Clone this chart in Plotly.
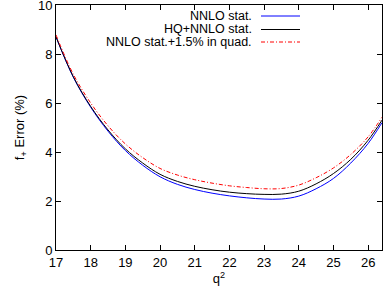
import plotly.graph_objects as go

q2 = [17.0, 17.5, 18.0, 18.5, 19.0, 19.5, 20.0, 20.5, 21.0, 21.5, 22.0, 22.5,
      23.0, 23.5, 24.0, 24.5, 25.0, 25.5, 26.0, 26.4]
nnlo_stat = [8.70, 7.05, 5.83, 4.85, 4.06, 3.46, 2.99, 2.68, 2.47, 2.32, 2.21, 2.13,
             2.08, 2.08, 2.20, 2.50, 2.92, 3.55, 4.35, 5.20]
hq_nnlo_stat = [8.70, 7.07, 5.86, 4.90, 4.13, 3.55, 3.09, 2.80, 2.60, 2.46, 2.36, 2.30,
                2.27, 2.28, 2.40, 2.70, 3.12, 3.70, 4.48, 5.30]
nnlo_quad = [8.78, 7.17, 6.00, 5.07, 4.33, 3.77, 3.33, 3.06, 2.87, 2.73, 2.62, 2.55,
             2.50, 2.51, 2.65, 2.95, 3.35, 3.90, 4.62, 5.42]

names = ["NNLO stat.", "HQ+NNLO stat.", "NNLO stat.+1.5% in quad."]
colors = ["#0000ff", "#000000", "#ff0000"]
dashes = ["solid", "solid", "4px,2px,1px,2px"]
series = [nnlo_stat, hq_nnlo_stat, nnlo_quad]

FONT = "Liberation Sans, Arial, sans-serif"

fig = go.Figure()
for name, ys, c, d in zip(names, series, colors, dashes):
    fig.add_trace(go.Scatter(x=q2, y=ys, mode="lines", name=name,
                             line=dict(color=c, width=1, dash=d, shape="spline", smoothing=1.0),
                             showlegend=False))

# gnuplot-style legend: right-aligned text, sample line to the right
W, H = 383, 292
L, R, T, B = 56, 1, 5, 42
pw, ph = W - L - R, H - T - B
rows_y = [16, 29.5, 42]
text_right = 254
line_x0, line_x1 = 261, 300
for name, c, d, yy in zip(names, colors, dashes, rows_y):
    yp = 1 - (yy - T) / ph
    fig.add_annotation(x=(text_right - L) / pw, y=yp, xref="paper", yref="paper",
                       text=name, showarrow=False, xanchor="right", yanchor="middle",
                       font=dict(size=12.5, color="black", family=FONT))
    fig.add_shape(type="line", xref="paper", yref="paper",
                  x0=(line_x0 - L) / pw, x1=(line_x1 - L) / pw, y0=yp, y1=yp,
                  line=dict(color=c, width=1, dash=d))

axis_common = dict(showline=True, mirror="ticks", linecolor="black", linewidth=1,
                   ticks="inside", ticklen=5, tickcolor="black", showgrid=False,
                   zeroline=False, automargin=False, ticklabeloverflow="allow",
                   tickfont=dict(size=13, color="black", family=FONT))

fig.update_layout(
    width=W, height=H,
    margin=dict(l=L, r=R, t=T, b=B),
    plot_bgcolor="white", paper_bgcolor="white",
    font=dict(family=FONT, color="black"),
    xaxis=dict(range=[17, 26.4], tickvals=list(range(17, 27)),
               title=dict(text="q<sup>2</sup>", font=dict(size=13), standoff=4), **axis_common),
    yaxis=dict(range=[0, 10], tickvals=[0, 2, 4, 6, 8, 10],
               title=dict(text="f<sub>+</sub> Error (%)", font=dict(size=13), standoff=10), **axis_common),
)

fig.write_html("out.html", config={"displayModeBar": False},
               post_script="document.body.style.margin='0';document.body.style.overflow='hidden';")
